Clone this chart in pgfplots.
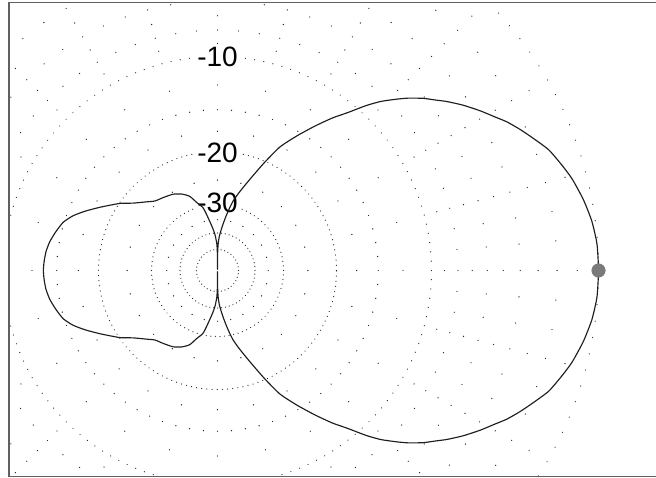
\documentclass[border=0pt]{standalone}
\usepackage{pgfplots}
\pgfplotsset{compat=1.18}
\usepackage{pgfplotstable}
\usepackage{fontspec}
\setmainfont{Liberation Sans}
\definecolor{gridc}{HTML}{2A2A2A}
\definecolor{curvec}{HTML}{1E1E1E}
\definecolor{dotc}{HTML}{7A7A7A}
\definecolor{framec}{HTML}{606060}

% radiation pattern: angle (deg), level (dB)
\pgfplotstableread{
ang db
-180 -13.6
-177.2 -13.65
-173.8 -13.76
-170.3 -14.0
-166.6 -14.4
-162.6 -14.9
-159.2 -15.7
-155.8 -16.8
-151.5 -18.3
-145.5 -20.3
-141.4 -21.9
-135.8 -23.5
-132 -24.4
-126.6 -24.9
-120.2 -25.4
-115 -26.2
-110.5 -27.3
-106.9 -29.2
-103.1 -30.8
-101 -33
-98.8 -35.6
-96.5 -38
-94 -41
-91.5 -46
-90.5 -53
-90 -100
-89.5 -53
-88.5 -46
-87 -42
-85 -39
-83 -36.2
-81 -33.5
-79 -31
-77.4 -29.2
-75 -27.3
-73 -25.8
-70.2 -23.6
-66.5 -20.4
-63.2 -17.6
-59.5 -15.5
-56 -13.6
-53 -12.0
-50.5 -10.8
-48 -9.4
-46 -8.4
-43.7 -7.46
-42 -6.8
-39.9 -6.09
-38 -5.55
-36.4 -5.06
-34 -4.4
-31.3 -3.73
-29 -3.2
-27.2 -2.75
-25 -2.3
-22.7 -1.86
-20 -1.35
-17 -0.98
-14.5 -0.69
-11 -0.39
-7.5 -0.16
-4 -0.03
0 0
4 -0.03
7.5 -0.16
11 -0.39
14.5 -0.69
17 -0.98
20 -1.35
22.7 -1.86
25 -2.3
27.2 -2.75
29 -3.2
31.3 -3.73
34 -4.4
36.4 -5.06
38 -5.55
39.9 -6.09
42 -6.8
43.7 -7.46
46 -8.4
48 -9.4
50.5 -10.8
53 -12.0
56 -13.6
59.5 -15.5
63.2 -17.6
66.5 -20.4
70.2 -23.6
73 -25.8
75 -27.3
77.4 -29.2
79 -31
81 -33.5
83 -36.2
85 -39
87 -42
88.5 -46
89.5 -53
90 -100
90.5 -53
91.5 -46
94 -41
96.5 -38
98.8 -35.6
101 -33
103.1 -30.8
106.9 -29.2
110.5 -27.3
115 -26.2
120.2 -25.4
126.6 -24.9
132 -24.4
135.8 -23.5
141.4 -21.9
145.5 -20.3
151.5 -18.3
155.8 -16.8
159.2 -15.7
162.6 -14.9
166.6 -14.4
170.3 -14.0
173.8 -13.76
177.2 -13.65
180 -13.6
}\patterndata

\begin{document}
\begin{tikzpicture}[x=1pt,y=1pt]
% ---------- polar grid ----------
\begin{scope}
\clip (9,1) rectangle (656,474);
\begin{scope}[shift={(217.5,206.5)}]
\draw[gridc, line width=1.25pt, line cap=round, dash pattern=on 0.01pt off 16.61pt] (0,0) circle (381);
\draw[gridc, line width=1.25pt, line cap=round, dash pattern=on 0.01pt off 9.33pt] (0,0) circle (214);
\draw[gridc, line width=1.25pt, line cap=round, dash pattern=on 0.01pt off 5.18pt] (0,0) circle (119);
\draw[gridc, line width=1.25pt, line cap=round, dash pattern=on 0.01pt off 4.60pt] (0,0) circle (66);
\draw[gridc, line width=1.25pt, line cap=round, dash pattern=on 0.01pt off 3.92pt] (0,0) circle (37.5);
\draw[gridc, line width=1.25pt, line cap=round, dash pattern=on 0.01pt off 3.66pt] (0,0) circle (21);
\foreach \d in {-2,-4,-6,-8,-15}{
  \foreach \a in {0,5,...,355}{
    \fill[gridc] ({\a}:{381*pow(10,\d/40)}) circle (0.68);
  }
}
\foreach \d in {-1,-3,-5,-7,-9,-12.5,-17.5,-25,-35}{
  \foreach \a in {0,15,...,345}{
    \fill[gridc] ({\a}:{381*pow(10,\d/40)}) circle (0.68);
  }
}
\end{scope}
\end{scope}
% ---------- frame ----------
\draw[framec, line width=1.4pt] (656,474.3) -- (9,474.3) -- (9,0.7) -- (656,0.7);
% ---------- ring labels ----------
\begin{scope}[every node/.style={fill=white, inner sep=0.8pt, font=\fontsize{28}{28}\selectfont, text=black}]
\node at (217.5,419.7) {-10};
\node at (217.5,323.7) {-20};
\node at (217.5,274.3) {-30};
\end{scope}
% ---------- pattern ----------
\begin{axis}[at={(0,0)}, anchor=south west, width=656pt, height=477pt,
  scale only axis, hide axis, clip=false,
  xmin=-217.5, xmax=438.5, ymin=-206.5, ymax=270.5]
\addplot[curvec, line width=1.15pt, line join=round, smooth, tension=0.35] table[
  x expr={381*10^(\thisrow{db}/40)*cos(\thisrow{ang})},
  y expr={381*10^(\thisrow{db}/40)*sin(\thisrow{ang})}] {\patterndata};
\addplot[only marks, mark=*, mark size=6.8pt, mark options={fill=dotc, draw=dotc}] coordinates {(381,0)};
\end{axis}
\pgfresetboundingbox
\path[use as bounding box] (0,0) rectangle (656,477);
\end{tikzpicture}
\end{document}
